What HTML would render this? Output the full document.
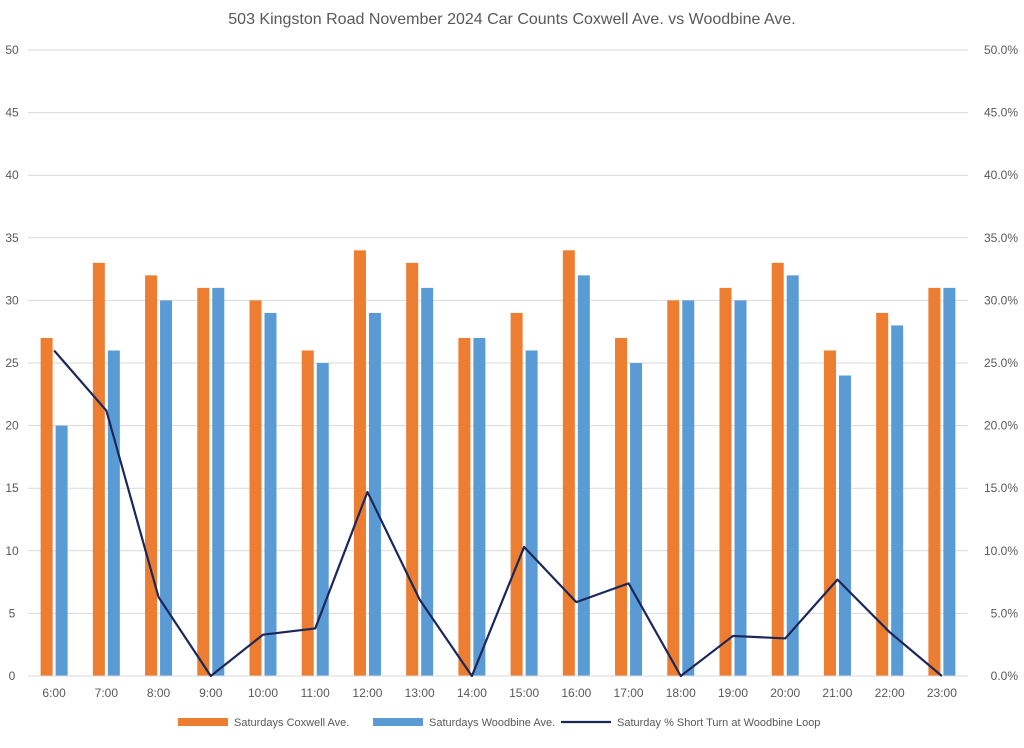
<!DOCTYPE html>
<html><head><meta charset="utf-8"><style>
body{margin:0;background:#fff;font-family:"Liberation Sans",sans-serif;}
svg text{font-family:"Liberation Sans",sans-serif;fill:#595959;}
</style></head><body>
<svg id="chart" width="1024" height="743"></svg>
<script>
const categories=["6:00","7:00","8:00","9:00","10:00","11:00","12:00","13:00","14:00","15:00","16:00","17:00","18:00","19:00","20:00","21:00","22:00","23:00"];
const coxwell=[27,33,32,31,30,26,34,33,27,29,34,27,30,31,33,26,29,31];
const woodbine=[20,26,30,31,29,25,29,31,27,26,32,25,30,30,32,24,28,31];
const shortTurn=[26.0,21.2,6.3,0,3.3,3.8,14.7,6.1,0,10.3,5.9,7.4,0,3.2,3.0,7.7,3.5,0];
const leftTicks=[0,5,10,15,20,25,30,35,40,45,50];
const rightTicks=["0.0%","5.0%","10.0%","15.0%","20.0%","25.0%","30.0%","35.0%","40.0%","45.0%","50.0%"];
const NS="http://www.w3.org/2000/svg";
const svg=document.getElementById('chart');
const L=28,R=968,T=50,B=676;
const cw=(R-L)/categories.length;
const y=v=>B-(v/50)*(B-T);
const yp=p=>B-(p/50)*(B-T);
const xc=i=>L+cw*(i+0.5);
function mk(tag,attrs,parent){const e=document.createElementNS(NS,tag);for(const k in attrs)e.setAttribute(k,attrs[k]);(parent||svg).appendChild(e);return e;}
const title=mk('text',{x:512,y:24,'text-anchor':'middle','font-size':16});
title.textContent="503 Kingston Road November 2024 Car Counts Coxwell Ave. vs Woodbine Ave.";


leftTicks.forEach((t,i)=>{
 const g=mk('line',{x1:L,x2:R,y1:y(t),y2:y(t),stroke:'#d9d9d9','stroke-width':1});
 
 
 const a=mk('text',{x:12,y:y(t)+4,'text-anchor':'middle','font-size':12});a.textContent=t;
 
 
 const b=mk('text',{x:1018,y:y(t)+4,'text-anchor':'end','font-size':12});b.textContent=rightTicks[i];
 
 
});
const bw=12;
categories.forEach((c,i)=>{
 const o=mk('rect',{x:xc(i)-bw-1.5,y:y(coxwell[i]),width:bw,height:B-y(coxwell[i]),fill:'#ed7d31'});
 
 
 const b=mk('rect',{x:xc(i)+1.5,y:y(woodbine[i]),width:bw,height:B-y(woodbine[i]),fill:'#5b9bd5'});
 
 
 const t=mk('text',{x:xc(i),y:697,'text-anchor':'middle','font-size':12});t.textContent=c;
 
 
});
const ax=mk('line',{x1:L,x2:R,y1:B,y2:B,stroke:'#d9d9d9'});


const pl=mk('polyline',{points:shortTurn.map((p,i)=>xc(i)+','+yp(p)).join(' '),fill:'none',stroke:'#1b2758','stroke-width':2.2,'stroke-linejoin':'round'});


const lg=mk('g',{});


const e1=mk('rect',{x:178,y:718,width:50,height:8,fill:'#ed7d31'},lg);


const t1=mk('text',{x:234,y:726,'font-size':11},lg);t1.textContent="Saturdays Coxwell Ave.";


const e2=mk('rect',{x:373,y:718,width:50,height:8,fill:'#5b9bd5'},lg);


const t2=mk('text',{x:429,y:726,'font-size':11},lg);t2.textContent="Saturdays Woodbine Ave.";


const e3=mk('line',{x1:561,x2:611,y1:722,y2:722,stroke:'#1b2758','stroke-width':2.2},lg);


const t3=mk('text',{x:617,y:726,'font-size':11},lg);t3.textContent="Saturday % Short Turn at Woodbine Loop";


</script>
</body></html>
